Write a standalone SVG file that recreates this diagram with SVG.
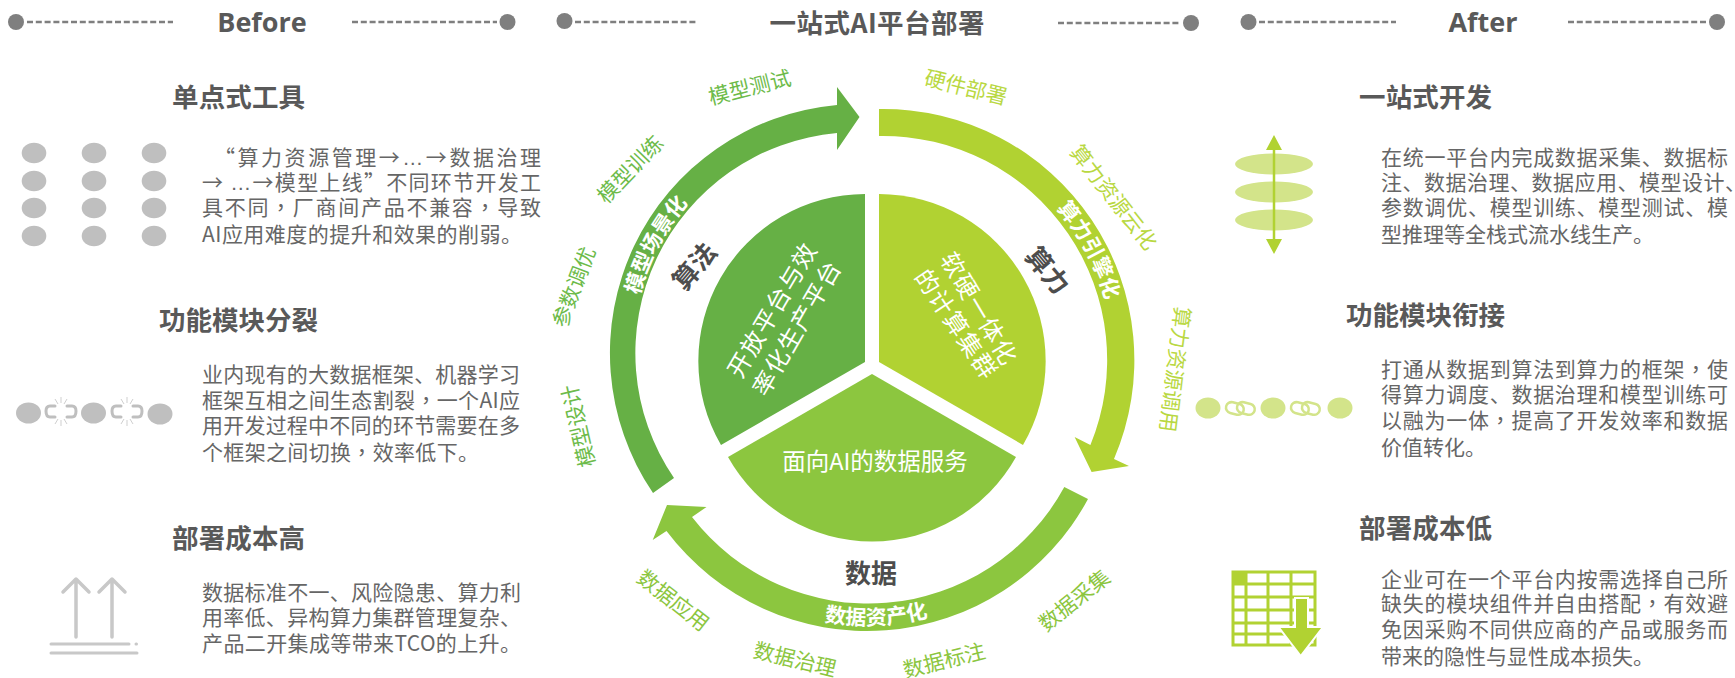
<svg xmlns="http://www.w3.org/2000/svg" width="1735" height="678" viewBox="0 0 1735 678">
<style>
text{font-family:"Noto Sans CJK SC","Noto Sans",sans-serif}
.hd{font-family:"Open Sans","Noto Sans CJK SC",sans-serif;font-weight:700;font-size:27px;fill:#595959;text-anchor:middle}
.ti{font-weight:700;font-size:26.500px;fill:#595959;text-anchor:middle}
.h{font-weight:700;font-size:26.500px;fill:#595959}
.b{font-size:21px;fill:#666}
.dk{font-weight:700;font-size:26px;fill:#4d4d4d;text-anchor:middle}
.w{font-size:24px;fill:#fff;text-anchor:middle;letter-spacing:1.300px}
.wb{font-weight:700;font-size:21px;fill:#fff;text-anchor:middle}
.g{font-size:21px;fill:#6dbb4a;text-anchor:middle}
.l{font-size:21px;fill:#b9d842;text-anchor:middle}
.d{font-size:21px;fill:#8cc63f;text-anchor:middle}
.dash{stroke:#7f7f7f;stroke-width:2.500;stroke-dasharray:6 2.800;fill:none}
.dot{fill:#7f7f7f}
.gy{fill:#bfbfbf}
.lt{fill:#d3e48a}
.sg{fill:none;stroke:#c8c8c8;stroke-width:3.500;stroke-linecap:round;stroke-linejoin:round}
.sp{fill:none;stroke:#cfcfcf;stroke-width:1}
.ch{fill:none;stroke:#bfbfbf;stroke-width:3;stroke-linecap:round}
.cl{fill:none;stroke:#d3e48a;stroke-width:2.500}
.tb{fill:none;stroke:#b1d232;stroke-width:3}
.tc{font-family:"Noto Sans CJK TC",sans-serif}
.la{font-family:"Liberation Sans",sans-serif}
</style>
<defs>
<path id="arc-algo" d="M632.100 360.900A227 227 0 0 1 738.700 160.500"/>
<path id="arc-compute" d="M1005 164.900A229.500 229.500 0 0 1 1113.400 367.200"/>
<path id="arc-data" d="M752.800 596.800A245 245 0 0 0 997.600 587.300"/>
</defs>

<g id="header-before">
<circle class="dot" cx="16" cy="22" r="8"/><path class="dash" d="M27 22H173"/>
<text class="hd" x="262" y="32">Before</text>
<path class="dash" d="M352 22H497"/><circle class="dot" cx="507.500" cy="22" r="8"/>
</g>
<g id="header-center">
<circle class="dot" cx="564.500" cy="21" r="8"/><path class="dash" d="M575 22H698"/>
<text class="ti" x="877" y="33" textLength="215">一站式AI平台部署</text>
<path class="dash" d="M1058 23H1181"/><circle class="dot" cx="1191" cy="23" r="8"/>
</g>
<g id="header-after">
<circle class="dot" cx="1248.500" cy="22" r="8"/><path class="dash" d="M1259 22H1396"/>
<text class="hd" x="1483" y="32">After</text>
<path class="dash" d="M1568 22H1707"/><circle class="dot" cx="1717" cy="22" r="8"/>
</g>

<g id="before-1">
<text class="h" x="172" y="107" textLength="133">单点式工具</text>
<g class="gy">
<ellipse cx="34" cy="153" rx="12.300" ry="10.300"/><ellipse cx="94" cy="153" rx="12.300" ry="10.300"/><ellipse cx="154" cy="153" rx="12.300" ry="10.300"/>
<ellipse cx="34" cy="181" rx="12.300" ry="10.300"/><ellipse cx="94" cy="181" rx="12.300" ry="10.300"/><ellipse cx="154" cy="181" rx="12.300" ry="10.300"/>
<ellipse cx="34" cy="208" rx="12.300" ry="10.300"/><ellipse cx="94" cy="208" rx="12.300" ry="10.300"/><ellipse cx="154" cy="208" rx="12.300" ry="10.300"/>
<ellipse cx="34" cy="236" rx="12.300" ry="10.300"/><ellipse cx="94" cy="236" rx="12.300" ry="10.300"/><ellipse cx="154" cy="236" rx="12.300" ry="10.300"/>
</g>
<text class="b" x="214" y="165" textLength="327">“算力资源管理→<tspan class="la">…</tspan>→数据治理</text>
<text class="b" x="202" y="190" textLength="339">→ <tspan class="la">…</tspan>→模型上线”不同环节开发工</text>
<text class="b" x="202" y="215" textLength="339">具不同<tspan class="tc">，</tspan>厂商间产品不兼容<tspan class="tc">，</tspan>导致</text>
<text class="b" x="202" y="242" textLength="320">AI应用难度的提升和效果的削弱。</text>
</g>

<g id="before-2">
<text class="h" x="159" y="330" textLength="159">功能模块分裂</text>
<g class="gy"><ellipse cx="28.500" cy="413" rx="12.500" ry="10.500"/><ellipse cx="93.500" cy="413" rx="12.500" ry="10.500"/><ellipse cx="160" cy="414" rx="12.500" ry="10.500"/></g>
<path class="ch" d="M55 406H50Q46 406 46 411Q46 417 50 417H55M67 406H72Q76 406 76 411Q76 417 72 417H67"/>
<path class="ch" d="M121 406H116Q112 406 112 411Q112 417 116 417H121M133 406H138Q142 406 142 411Q142 417 138 417H133"/>
<path class="sp" d="M61 397V403M55 399L58 404M67 399L64 404M61 420V426M55 424L58 419M67 424L64 419"/>
<path class="sp" d="M127 397V403M121 399L124 404M133 399L130 404M127 420V426M121 424L124 419M133 424L130 419"/>
<text class="b" x="202" y="382" textLength="318">业内现有的大数据框架、机器学习</text>
<text class="b" x="202" y="408" textLength="318">框架互相之间生态割裂<tspan class="tc">，</tspan>一个AI应</text>
<text class="b" x="202" y="433" textLength="318">用开发过程中不同的环节需要在多</text>
<text class="b" x="202" y="460" textLength="277">个框架之间切换<tspan class="tc">，</tspan>效率低下。</text>
</g>

<g id="before-3">
<text class="h" x="172" y="548" textLength="133">部署成本高</text>
<path class="sg" d="M76 637V579M63 592L76 579L89 592M112 637V579M99 592L112 579L125 592"/>
<path class="sg" style="stroke-width:3" d="M51 644H129M136 644H136.500M51 653H137"/>
<text class="b" x="202" y="600" textLength="319">数据标准不一、风险隐患、算力利</text>
<text class="b" x="202" y="625" textLength="319">用率低、异构算力集群管理复杂、</text>
<text class="b" x="202" y="651" textLength="319">产品二开集成等带来TCO的上升。</text>
</g>

<g id="connectors">
<path id="ring-algo" fill="#66b045" d="M653 493A249 249 0 0 1 837 105L837 87L859.500 117L837 150L837 133A221 221 0 0 0 674 478Z"/>
<path id="ring-compute" fill="#b1d232" d="M879 109A251 251 0 0 1 1114 459L1129 466L1091.600 472L1074.600 437L1090.400 445A224 224 0 0 0 879 136Z"/>
<path id="ring-data" fill="#8cc63f" d="M1088 499A251 251 0 0 1 666.500 531L652.700 540L667 505L706.500 507L692 517A223 223 0 0 0 1064.300 487Z"/>
</g>

<g id="pie-algo">
<path fill="#66b045" d="M865 194A167 167 0 0 0 721 445L865 362Z"/>
<text class="w" transform="translate(772.500 310) rotate(-59.500)" y="8.500">开放平台与效</text>
<text class="w" transform="translate(797 328) rotate(-60)" y="8.500">率化生产平台</text>
</g>
<g id="pie-compute">
<path fill="#b1d232" d="M879 194A167 167 0 0 1 1023 445L879 362Z"/>
<text class="w" transform="translate(979 309) rotate(59.500)" y="8.500">软硬一体化</text>
<text class="w" transform="translate(956 324.500) rotate(56)" y="8.500">的计算集群</text>
</g>
<g id="pie-data">
<path fill="#8cc63f" d="M872 374L1016 457A165 165 0 0 1 728 457Z"/>
<text class="w" style="font-size:23.500px;letter-spacing:0" x="875" y="470">面向AI的数据服务</text>
</g>

<g id="labels-algo">
<text class="dk" transform="translate(694 266) rotate(-50)" y="10">算法</text>
<text class="wb"><textPath href="#arc-algo" startOffset="50%">模型场景化</textPath></text>
<text class="g" transform="translate(749.600 87) rotate(-14)" y="8">模型测试</text>
<text class="g" transform="translate(630 169) rotate(-46)" y="8">模型训练</text>
<text class="g" transform="translate(573.600 287) rotate(-69)" y="8">参数调优</text>
<text class="g" transform="translate(578 426) rotate(-103)" y="8">模型设计</text>
</g>
<g id="labels-compute">
<text class="dk" transform="translate(1048 270) rotate(50)" y="10">算力</text>
<text class="wb"><textPath href="#arc-compute" startOffset="50%">算力引擎化</textPath></text>
<text class="l" transform="translate(966 87) rotate(14)" y="8">硬件部署</text>
<text class="l" transform="translate(1114 197) rotate(52)" y="8">算力资源云化</text>
<text class="l" transform="translate(1175.500 369.500) rotate(97)" y="8">算力资源调用</text>
</g>
<g id="labels-data">
<text class="dk" x="871" y="583">数据</text>
<text class="wb"><textPath href="#arc-data" startOffset="50%">数据资产化</textPath></text>
<text class="d" transform="translate(673.600 600) rotate(38)" y="8">数据应用</text>
<text class="d" transform="translate(795 659) rotate(13.500)" y="8">数据治理</text>
<text class="d" transform="translate(944 660) rotate(-14)" y="8">数据标注</text>
<text class="d" transform="translate(1074 600) rotate(-38.600)" y="8">数据采集</text>
</g>

<g id="after-1">
<text class="h" x="1359" y="107" textLength="133">一站式开发</text>
<g class="lt"><ellipse cx="1274" cy="164" rx="39" ry="10.500"/><ellipse cx="1274" cy="192" rx="39" ry="10.500"/><ellipse cx="1274" cy="220" rx="39" ry="10.500"/></g>
<path stroke="#b1d232" stroke-width="2.500" d="M1274 145V245"/>
<path fill="#b1d232" d="M1274 135L1282 150H1266ZM1274 254L1282 239H1266Z"/>
<text class="b" x="1381" y="165" textLength="347">在统一平台内完成数据采集、数据标</text>
<text class="b" x="1381" y="190" textLength="365">注、数据治理、数据应用、模型设计、</text>
<text class="b" x="1381" y="215" textLength="347">参数调优、模型训练、模型测试、模</text>
<text class="b" x="1381" y="242">型推理等全栈式流水线生产。</text>
</g>
<g id="after-2">
<text class="h" x="1346" y="325" textLength="159">功能模块衔接</text>
<g class="lt"><ellipse cx="1208" cy="408" rx="12.500" ry="10.500"/><ellipse cx="1273" cy="408" rx="12.500" ry="10.500"/><ellipse cx="1340" cy="408" rx="12.500" ry="10.500"/></g>
<rect class="cl" x="1226" y="403" width="18" height="11" rx="5.500" transform="rotate(14 1235 408)"/><rect class="cl" x="1237" y="403" width="18" height="11" rx="5.500" transform="rotate(14 1246 408)"/>
<rect class="cl" x="1291" y="403" width="18" height="11" rx="5.500" transform="rotate(14 1300 408)"/><rect class="cl" x="1302" y="403" width="18" height="11" rx="5.500" transform="rotate(14 1311 408)"/>
<text class="b" x="1381" y="377" textLength="347">打通从数据到算法到算力的框架<tspan class="tc">，</tspan>使</text>
<text class="b" x="1381" y="402" textLength="347">得算力调度、数据治理和模型训练可</text>
<text class="b" x="1381" y="428" textLength="347">以融为一体<tspan class="tc">，</tspan>提高了开发效率和数据</text>
<text class="b" x="1381" y="455">价值转化。</text>
</g>
<g id="after-3">
<text class="h" x="1359" y="538" textLength="133">部署成本低</text>
<path class="tb" d="M1233 572H1315V645H1233ZM1233 584H1315M1233 597H1315M1233 610H1315M1233 623H1315M1233 634H1315M1246 572V645M1268 572V645M1291 572V645"/>
<rect x="1232" y="571" width="14" height="13" fill="#b1d232"/>
<path fill="#b1d232" stroke="#fff" stroke-width="2" d="M1295 598H1308V627H1323L1300.700 656L1278.600 627H1295Z"/>
<text class="b" x="1381" y="587" textLength="347">企业可在一个平台内按需选择自己所</text>
<text class="b" x="1381" y="611" textLength="347">缺失的模块组件并自由搭配<tspan class="tc">，</tspan>有效避</text>
<text class="b" x="1381" y="637" textLength="347">免因采购不同供应商的产品或服务而</text>
<text class="b" x="1381" y="664">带来的隐性与显性成本损失。</text>
</g>
</svg>
